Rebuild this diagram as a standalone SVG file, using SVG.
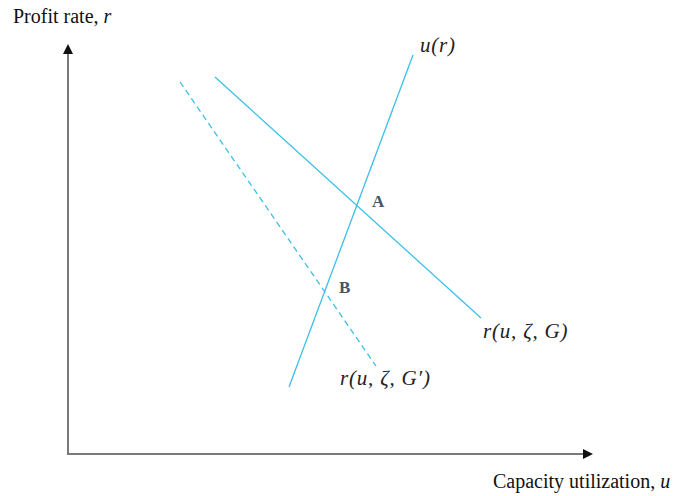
<svg xmlns="http://www.w3.org/2000/svg" width="688" height="496" viewBox="0 0 688 496">
<style>
.axis{stroke:#7a7a7a;stroke-width:2;fill:none}
.curve{stroke:#3cc0e6;stroke-width:1.3;fill:none}
.dash{stroke-dasharray:6 4}
.lbl{font-family:"Liberation Serif",serif;font-size:20px;fill:#111}
.math{font-family:"Liberation Serif",serif;font-style:italic;font-size:21px;letter-spacing:0.8px;fill:#222}
.pt{font-family:"Liberation Serif",serif;font-weight:bold;font-size:17px;fill:#44546a}
</style>
<defs>
<marker id="ah" markerWidth="10" markerHeight="10" refX="8" refY="5" orient="auto" markerUnits="userSpaceOnUse">
<path d="M0,0 L10,5 L0,10 z" fill="#111"/>
</marker>
</defs>
<g id="axes">
<line class="axis" x1="68" y1="454" x2="68" y2="46" marker-end="url(#ah)"/>
<line class="axis" x1="67" y1="454" x2="591" y2="454" marker-end="url(#ah)"/>
</g>
<g id="connectors">
<line class="curve" x1="289" y1="387" x2="413" y2="55"/>
<line class="curve" x1="215" y1="77" x2="481" y2="318"/>
<line class="curve dash" x1="180" y1="82" x2="376" y2="366"/>
</g>
<g id="labels">
<text class="lbl" x="13" y="23">Profit rate, <tspan font-style="italic">r</tspan></text>
<text class="lbl" x="493" y="488">Capacity utilization, <tspan font-style="italic">u</tspan></text>
<text class="math" x="420" y="52">u(r)</text>
<text class="math" x="483" y="338">r(u, ζ, G)</text>
<text class="math" x="340" y="385">r(u, ζ, G′)</text>
<text class="pt" x="372" y="207">A</text>
<text class="pt" x="339" y="293">B</text>
</g>
</svg>
